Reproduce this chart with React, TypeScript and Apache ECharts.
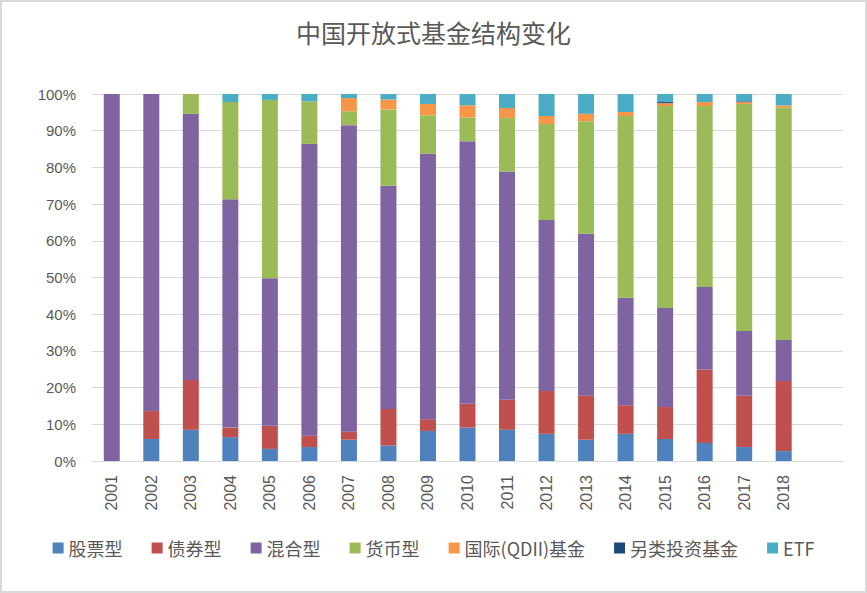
import React, { useEffect, useRef } from "react";
import * as echarts from "echarts";

const years = ["2001","2002","2003","2004","2005","2006","2007","2008","2009","2010","2011","2012","2013","2014","2015","2016","2017","2018",""];
const stock = [0, 6.0, 8.5, 6.5, 3.3, 3.8, 5.8, 4.2, 8.2, 9.1, 8.5, 7.4, 5.8, 7.4, 6.0, 4.9, 3.8, 2.7];
const bond = [0, 7.6, 13.6, 2.6, 6.3, 3.1, 2.2, 10.0, 3.2, 6.5, 8.2, 11.7, 12.0, 7.8, 8.7, 20.0, 14.0, 19.1];
const mixed = [100, 86.4, 72.5, 62.2, 40.2, 79.5, 83.5, 60.8, 72.3, 71.5, 62.2, 46.6, 44.1, 29.3, 27.0, 22.5, 17.6, 11.2];
const money = [0, 0, 5.4, 26.5, 48.6, 11.6, 3.8, 20.8, 10.5, 6.5, 14.6, 26.1, 30.7, 49.5, 55.0, 49.3, 61.9, 63.4];
const qdii = [0, 0, 0, 0, 0, 0, 3.6, 2.7, 3.1, 3.3, 2.7, 2.2, 2.0, 1.1, 0.8, 1.1, 0.5, 0.5];
const other = [0, 0, 0, 0, 0, 0, 0, 0, 0, 0, 0, 0, 0, 0, 0.3, 0, 0.2, 0];
const etf = [0, 0, 0, 2.2, 1.6, 2.0, 1.1, 1.5, 2.7, 3.1, 3.8, 6.0, 5.4, 4.9, 2.2, 2.2, 2.0, 3.1];
const yTicks = { min: 0, max: 100, interval: 10 };

const seriesDefs = [
  { name: "股票型", data: stock, color: "#4f81bd" },
  { name: "债券型", data: bond, color: "#c0504d" },
  { name: "混合型", data: mixed, color: "#8064a2" },
  { name: "货币型", data: money, color: "#9bbb59" },
  { name: "国际(QDII)基金", data: qdii, color: "#f79646" },
  { name: "另类投资基金", data: other, color: "#1f497d" },
  { name: "ETF", data: etf, color: "#4bacc6" },
];

export default function App() {
  const ref = useRef<HTMLDivElement>(null);
  useEffect(() => {
    document.body.style.margin = "0";
    const chart = echarts.init(ref.current!, null, { renderer: "svg" });
    chart.setOption({
      animation: false,
      backgroundColor: "#ffffff",
      title: {
        text: "中国开放式基金结构变化",
        left: "center",
        top: 12,
        textStyle: { fontFamily: "Noto Sans CJK SC", fontSize: 25, fontWeight: "normal", color: "#595959" },
      },
      legend: {
        bottom: 29,
        left: "center",
        itemWidth: 11,
        itemHeight: 11,
        itemGap: 29,
        icon: "rect",
        textStyle: { fontFamily: "Noto Sans CJK SC", fontSize: 18, color: "#595959" },
        data: seriesDefs.map((s) => s.name),
      },
      grid: { left: 90, right: 22, top: 92, bottom: 130, containLabel: false },
      xAxis: {
        type: "category",
        data: years,
        axisTick: { show: false },
        axisLine: { lineStyle: { color: "#d9d9d9", width: 1 } },
        axisLabel: { rotate: 90, margin: 14, fontFamily: "Liberation Sans", fontSize: 16, color: "#595959" },
      },
      yAxis: {
        type: "value",
        min: yTicks.min,
        max: yTicks.max,
        interval: yTicks.interval,
        axisLine: { show: false },
        axisTick: { show: false },
        splitLine: { lineStyle: { color: "#d9d9d9", width: 1 } },
        axisLabel: { formatter: "{value}%", margin: 16, fontFamily: "Liberation Sans", fontSize: 15, color: "#595959" },
      },
      series: seriesDefs.map((s) => ({
        name: s.name,
        type: "bar",
        stack: "total",
        barWidth: 16,
        data: s.data,
        itemStyle: { color: s.color },
      })),
    });
    return () => chart.dispose();
  }, []);
  return (
    <div
      ref={ref}
      style={{ position: "absolute", left: 0, top: 0, width: 867, height: 593, boxSizing: "border-box", border: "2px solid #d9d9d9" }}
    />
  );
}
